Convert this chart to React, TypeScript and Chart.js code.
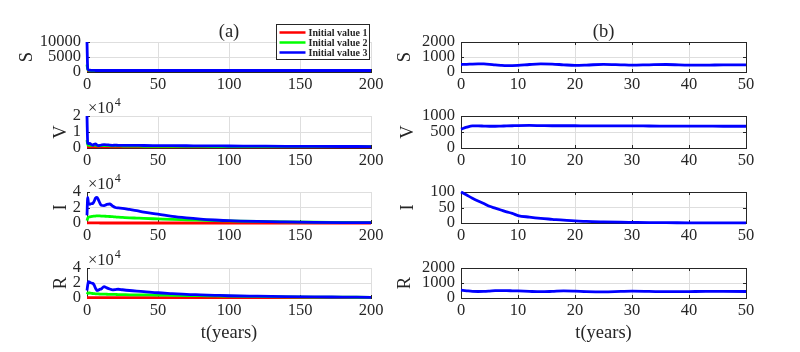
import React, { useEffect, useRef } from 'react';
import { Chart, registerables } from 'chart.js';
Chart.register(...registerables);

const FONT = '"Liberation Serif", "Times New Roman", serif';
const TXT = '#262626';
const GRID = '#dedede';
const RED = '#ff0000';
const GREEN = '#00ff00';
const BLUE = '#0000ff';

const legendLabels = ['Initial value 1', 'Initial value 2', 'Initial value 3'];
const panelTitles = ['(a)', '(b)'];
const varNames = ['S', 'V', 'I', 'R'];
const xAxisTitle = 't(years)';
const expText = '\u00d710';
const expPower = '4';

// ---- (a) time grid and series (t in years, 0..200)
const tA = [0, 0.5, 1, 2, 3, 4, 5, 6, 7, 8, 9, 10, 12, 14, 16, 18, 20, 22, 25, 30, 35, 40, 50, 60, 70, 80, 90, 100, 120, 140, 160, 180, 200];

const S1 = [500, 490, 480, 470, 460, 455, 450, 450, 450, 450, 450, 450, 450, 450, 450, 450, 450, 450, 450, 450, 450, 450, 450, 450, 450, 450, 450, 450, 450, 450, 450, 450, 450];
const S2 = [2500, 800, 600, 520, 500, 490, 480, 480, 480, 480, 480, 480, 480, 480, 480, 480, 480, 480, 480, 480, 480, 480, 480, 480, 480, 480, 480, 480, 480, 480, 480, 480, 480];
const S3 = [10000, 1000, 700, 600, 560, 540, 520, 500, 500, 500, 500, 500, 500, 500, 500, 500, 500, 500, 500, 500, 500, 500, 500, 500, 500, 500, 500, 500, 500, 500, 500, 500, 500];

const V1 = [600, 640, 660, 690, 690, 685, 680, 680, 685, 690, 695, 700, 705, 700, 695, 695, 695, 690, 690, 690, 688, 686, 684, 682, 680, 680, 680, 680, 680, 680, 680, 680, 680];
const V2 = [5000, 2200, 1800, 1700, 1600, 1700, 1800, 1700, 1500, 1400, 1400, 1450, 1500, 1450, 1400, 1350, 1300, 1300, 1250, 1200, 1150, 1100, 1050, 1000, 980, 960, 940, 920, 890, 860, 840, 820, 800];
const V3 = [20000, 3000, 2700, 2800, 2200, 1800, 2400, 2600, 1900, 1500, 1600, 1800, 2100, 2000, 1800, 1700, 1750, 1700, 1700, 1650, 1600, 1550, 1500, 1450, 1400, 1350, 1300, 1250, 1150, 1050, 1000, 950, 900];

const I1 = [100, 95, 90, 80, 71, 63, 56, 49, 43, 37, 32, 27, 19, 15, 12, 9, 7, 5, 3.5, 2, 1, 0.6, 0.2, 0, 0, 0, 0, 0, 0, 0, 0, 0, 0];
const I2 = [3000, 6000, 7500, 8000, 8300, 8600, 8800, 9000, 9200, 9200, 9100, 9000, 8800, 8600, 8400, 8100, 7800, 7500, 7200, 6700, 6300, 5900, 5300, 4700, 4200, 3700, 3200, 2800, 2000, 1400, 1000, 700, 400];
const I3 = [10000, 33000, 26000, 24000, 25000, 25000, 28000, 32000, 33000, 30000, 26000, 23000, 22500, 24000, 24500, 22000, 20000, 19500, 19000, 17500, 16000, 14000, 11500, 8500, 6500, 5000, 3900, 3000, 2000, 1400, 900, 600, 400];

const R1 = [450, 440, 430, 420, 420, 430, 440, 450, 450, 450, 440, 430, 420, 430, 440, 440, 430, 420, 430, 440, 430, 420, 430, 440, 440, 440, 440, 440, 440, 440, 440, 440, 440];
const R2 = [5000, 6500, 6800, 6600, 6300, 6000, 5800, 5600, 5500, 5400, 5300, 5200, 5100, 5000, 4900, 4800, 4700, 4600, 4500, 4300, 4200, 4100, 3900, 3600, 3300, 3100, 2800, 2600, 2100, 1600, 1300, 1100, 900];
const R3 = [10000, 17000, 21700, 21000, 20000, 19600, 17400, 13000, 10000, 10500, 11500, 12000, 15200, 13500, 12000, 10900, 11200, 11700, 11000, 10000, 9200, 8500, 7000, 5900, 4800, 4200, 3600, 3000, 2400, 1900, 1500, 1200, 900];

// ---- (b) time grid and series (t in years, 0..50)
const tB = [0, 1, 2, 3, 4, 5, 6, 7, 8, 9, 10, 12, 14, 16, 18, 20, 22, 25, 28, 30, 33, 36, 40, 43, 46, 50];
const SB = [500, 510, 530, 540, 535, 510, 470, 445, 430, 430, 440, 500, 540, 530, 480, 440, 460, 510, 480, 455, 480, 500, 460, 455, 480, 480];
const VB = [590, 650, 690, 690, 685, 680, 680, 685, 690, 695, 700, 705, 700, 695, 695, 695, 690, 690, 690, 690, 688, 686, 684, 682, 680, 680];
const IB = [100, 90, 80, 71, 63, 54, 48, 42, 36, 31, 24, 19, 15, 12, 9, 7, 5, 3.5, 2.5, 2, 1.3, 1, 0.6, 0.4, 0.3, 0.2];
const RB = [520, 480, 445, 435, 440, 460, 485, 495, 490, 480, 470, 440, 420, 440, 470, 455, 430, 415, 440, 455, 440, 420, 430, 440, 435, 435];

// ---- axis ticks
const xTicksA = { max: 200, step: 50 };
const xTicksB = { max: 50, step: 10 };
const yTicksA = [
  { max: 10000, step: 5000, div: 1 },
  { max: 20000, step: 10000, div: 10000 },
  { max: 40000, step: 20000, div: 10000 },
  { max: 40000, step: 20000, div: 10000 },
];
const yTicksB = [
  { max: 2000, step: 1000, div: 1 },
  { max: 1000, step: 500, div: 1 },
  { max: 100, step: 50, div: 1 },
  { max: 2000, step: 1000, div: 1 },
];

type Series = { label: string; color: string; t: number[]; v: number[] };
type PanelDef = {
  key: string;
  left: number; top: number; width: number; height: number;
  padTop: number; padRight: number; axisW: number; xAxisH: number;
  series: Series[];
  xMax: number; xStep: number; yMax: number; yStep: number; yDiv: number;
  yLabel: string; yTitlePad: number;
  xTitle?: string; title?: string; exp?: boolean; legend?: boolean; box?: boolean;
};

const rows = [
  { top: 0, height: 96, padTop: 42, xAxisH: 24 },
  { top: 96, height: 74, padTop: 20, xAxisH: 22 },
  { top: 170, height: 76, padTop: 22, xAxisH: 23 },
  { top: 246, height: 106, padTop: 22, xAxisH: 54 },
];
const leftTitlePads = [16, 50, 50, 50];
const rightTitlePads = [2, 5, 5, 2];

const seriesA: Series[][] = [
  [
    { label: legendLabels[0], color: RED, t: tA, v: S1 },
    { label: legendLabels[1], color: GREEN, t: tA, v: S2 },
    { label: legendLabels[2], color: BLUE, t: tA, v: S3 },
  ],
  [
    { label: legendLabels[0], color: RED, t: tA, v: V1 },
    { label: legendLabels[1], color: GREEN, t: tA, v: V2 },
    { label: legendLabels[2], color: BLUE, t: tA, v: V3 },
  ],
  [
    { label: legendLabels[0], color: RED, t: tA, v: I1 },
    { label: legendLabels[1], color: GREEN, t: tA, v: I2 },
    { label: legendLabels[2], color: BLUE, t: tA, v: I3 },
  ],
  [
    { label: legendLabels[0], color: RED, t: tA, v: R1 },
    { label: legendLabels[1], color: GREEN, t: tA, v: R2 },
    { label: legendLabels[2], color: BLUE, t: tA, v: R3 },
  ],
];
const seriesB: Series[][] = [
  [{ label: varNames[0], color: BLUE, t: tB, v: SB }],
  [{ label: varNames[1], color: BLUE, t: tB, v: VB }],
  [{ label: varNames[2], color: BLUE, t: tB, v: IB }],
  [{ label: varNames[3], color: BLUE, t: tB, v: RB }],
];

const panels: PanelDef[] = [];
rows.forEach((r, i) => {
  panels.push({
    key: 'a' + i,
    left: 0, top: r.top, width: 400, height: r.height,
    padTop: r.padTop, padRight: 29, axisW: 87, xAxisH: r.xAxisH,
    series: seriesA[i],
    xMax: xTicksA.max, xStep: xTicksA.step,
    yMax: yTicksA[i].max, yStep: yTicksA[i].step, yDiv: yTicksA[i].div,
    yLabel: varNames[i], yTitlePad: leftTitlePads[i],
    xTitle: i === 3 ? xAxisTitle : undefined,
    title: i === 0 ? panelTitles[0] : undefined,
    exp: i > 0, legend: i === 0, box: false,
  });
  panels.push({
    key: 'b' + i,
    left: 392, top: r.top, width: 408, height: r.height,
    padTop: r.padTop, padRight: 54, axisW: 69, xAxisH: r.xAxisH,
    series: seriesB[i],
    xMax: xTicksB.max, xStep: xTicksB.step,
    yMax: yTicksB[i].max, yStep: yTicksB[i].step, yDiv: yTicksB[i].div,
    yLabel: varNames[i], yTitlePad: rightTitlePads[i],
    xTitle: i === 3 ? xAxisTitle : undefined,
    title: i === 0 ? panelTitles[1] : undefined,
    exp: false, legend: false, box: true,
  });
});

const TICK_FONT = { family: FONT, size: 16.5 };
const LABEL_FONT = { family: FONT, size: 18.5 };

function makeOverlay(p: PanelDef) {
  return {
    id: 'overlay_' + p.key,
    beforeDatasetsDraw(chart: any) {
      const { ctx, chartArea: ca, scales } = chart;
      const al = (v: number) => Math.round(v) + 0.5;
      ctx.save();
      ctx.strokeStyle = TXT;
      ctx.lineWidth = 1;
      ctx.beginPath();
      if (p.box) {
        ctx.rect(al(ca.left), al(ca.top), Math.round(ca.right) - Math.round(ca.left), Math.round(ca.bottom) - Math.round(ca.top));
      }
      const tl = 3;
      scales.x.ticks.forEach((t: any) => {
        const px = al(scales.x.getPixelForValue(t.value));
        ctx.moveTo(px, ca.bottom);
        ctx.lineTo(px, ca.bottom - tl);
        if (p.box) {
          ctx.moveTo(px, ca.top);
          ctx.lineTo(px, ca.top + tl);
        }
      });
      scales.y.ticks.forEach((t: any) => {
        const py = al(scales.y.getPixelForValue(t.value));
        ctx.moveTo(ca.left, py);
        ctx.lineTo(ca.left + tl, py);
        if (p.box) {
          ctx.moveTo(ca.right, py);
          ctx.lineTo(ca.right - tl, py);
        }
      });
      ctx.stroke();
      ctx.restore();
    },
    afterDraw(chart: any) {
      const { ctx, chartArea: ca } = chart;
      ctx.save();
      ctx.fillStyle = TXT;
      if (p.title) {
        ctx.font = `${LABEL_FONT.size}px ${FONT}`;
        ctx.textAlign = 'center';
        ctx.textBaseline = 'middle';
        ctx.fillText(p.title, (ca.left + ca.right) / 2, ca.top - 10);
      }
      if (p.exp) {
        ctx.font = `${TICK_FONT.size}px ${FONT}`;
        ctx.textAlign = 'left';
        ctx.textBaseline = 'alphabetic';
        const x0 = ca.left + 1;
        ctx.fillText(expText, x0, ca.top - 3);
        const w = ctx.measureText(expText).width;
        ctx.font = `12px ${FONT}`;
        ctx.fillText(expPower, x0 + w + 1, ca.top - 10);
      }
      if (p.legend) {
        const bw = 93, bh = 35;
        const bx = Math.round(ca.right - 2 - bw) + 0.5;
        const by = Math.round(ca.top - 18) + 0.5;
        ctx.fillStyle = '#ffffff';
        ctx.fillRect(bx, by, bw, bh);
        ctx.strokeStyle = TXT;
        ctx.lineWidth = 1;
        ctx.strokeRect(bx, by, bw, bh);
        ctx.font = `bold 10px ${FONT}`;
        ctx.textAlign = 'left';
        ctx.textBaseline = 'middle';
        chart.data.datasets.forEach((ds: any, i: number) => {
          const yy = by + 8 + i * 10;
          ctx.strokeStyle = ds.borderColor;
          ctx.lineWidth = 2.5;
          ctx.beginPath();
          ctx.moveTo(bx + 3, yy);
          ctx.lineTo(bx + 29, yy);
          ctx.stroke();
          ctx.fillStyle = TXT;
          ctx.fillText(ds.label, bx + 32, yy + 0.5);
        });
      }
      ctx.restore();
    },
  };
}

function PanelChart({ p }: { p: PanelDef }) {
  const ref = useRef<HTMLCanvasElement>(null);
  useEffect(() => {
    const canvas = ref.current;
    if (!canvas) return;
    const n = p.series.length;
    const chart = new Chart(canvas, {
      type: 'line',
      data: {
        datasets: p.series.map((s, i) => ({
          label: s.label,
          data: s.t.map((t, k) => ({ x: t, y: s.v[k] })),
          borderColor: s.color,
          backgroundColor: s.color,
          borderWidth: 2.8,
          pointRadius: 0,
          fill: false,
          clip: false,
          cubicInterpolationMode: 'monotone' as const,
          order: n - 1 - i,
        })),
      },
      options: {
        responsive: false,
        animation: false,
        devicePixelRatio: 1,
        layout: { padding: { top: p.padTop, right: p.padRight, left: 0, bottom: 0 } },
        plugins: { legend: { display: false }, tooltip: { enabled: false }, title: { display: false } },
        events: [],
        scales: {
          x: {
            type: 'linear',
            min: 0,
            max: p.xMax,
            ticks: {
              stepSize: p.xStep,
              font: TICK_FONT,
              color: TXT,
              padding: 3,
              maxRotation: 0,
              autoSkip: false,
              callback: (v: any) => String(v),
            },
            grid: { color: GRID, drawTicks: false, lineWidth: 1 },
            border: { display: true, color: TXT, width: 1 },
            title: p.xTitle
              ? { display: true, text: p.xTitle, font: LABEL_FONT, color: TXT, padding: { top: 0, bottom: 8 } }
              : { display: false },
            afterFit: (s: any) => { s.height = p.xAxisH; },
          },
          y: {
            type: 'linear',
            min: 0,
            max: p.yMax,
            ticks: {
              stepSize: p.yStep,
              font: TICK_FONT,
              color: TXT,
              padding: 6,
              autoSkip: false,
              callback: (v: any) => String(Number(v) / p.yDiv),
            },
            grid: { color: GRID, drawTicks: false, lineWidth: 1 },
            border: { display: true, color: TXT, width: 1 },
            title: { display: true, text: p.yLabel, font: LABEL_FONT, color: TXT, padding: { top: p.yTitlePad, bottom: 0 } },
            afterFit: (s: any) => { s.width = p.axisW; },
          },
        },
      } as any,
      plugins: [makeOverlay(p)],
    });
    return () => chart.destroy();
  }, []);
  return (
    <canvas
      ref={ref}
      width={p.width}
      height={p.height}
      style={{ position: 'absolute', left: p.left, top: p.top, width: p.width, height: p.height }}
    />
  );
}

export default function App() {
  return (
    <div style={{ position: 'fixed', left: 0, top: 0, width: 800, height: 352, background: '#ffffff', overflow: 'hidden' }}>
      {panels.map((p) => (
        <PanelChart key={p.key} p={p} />
      ))}
    </div>
  );
}
